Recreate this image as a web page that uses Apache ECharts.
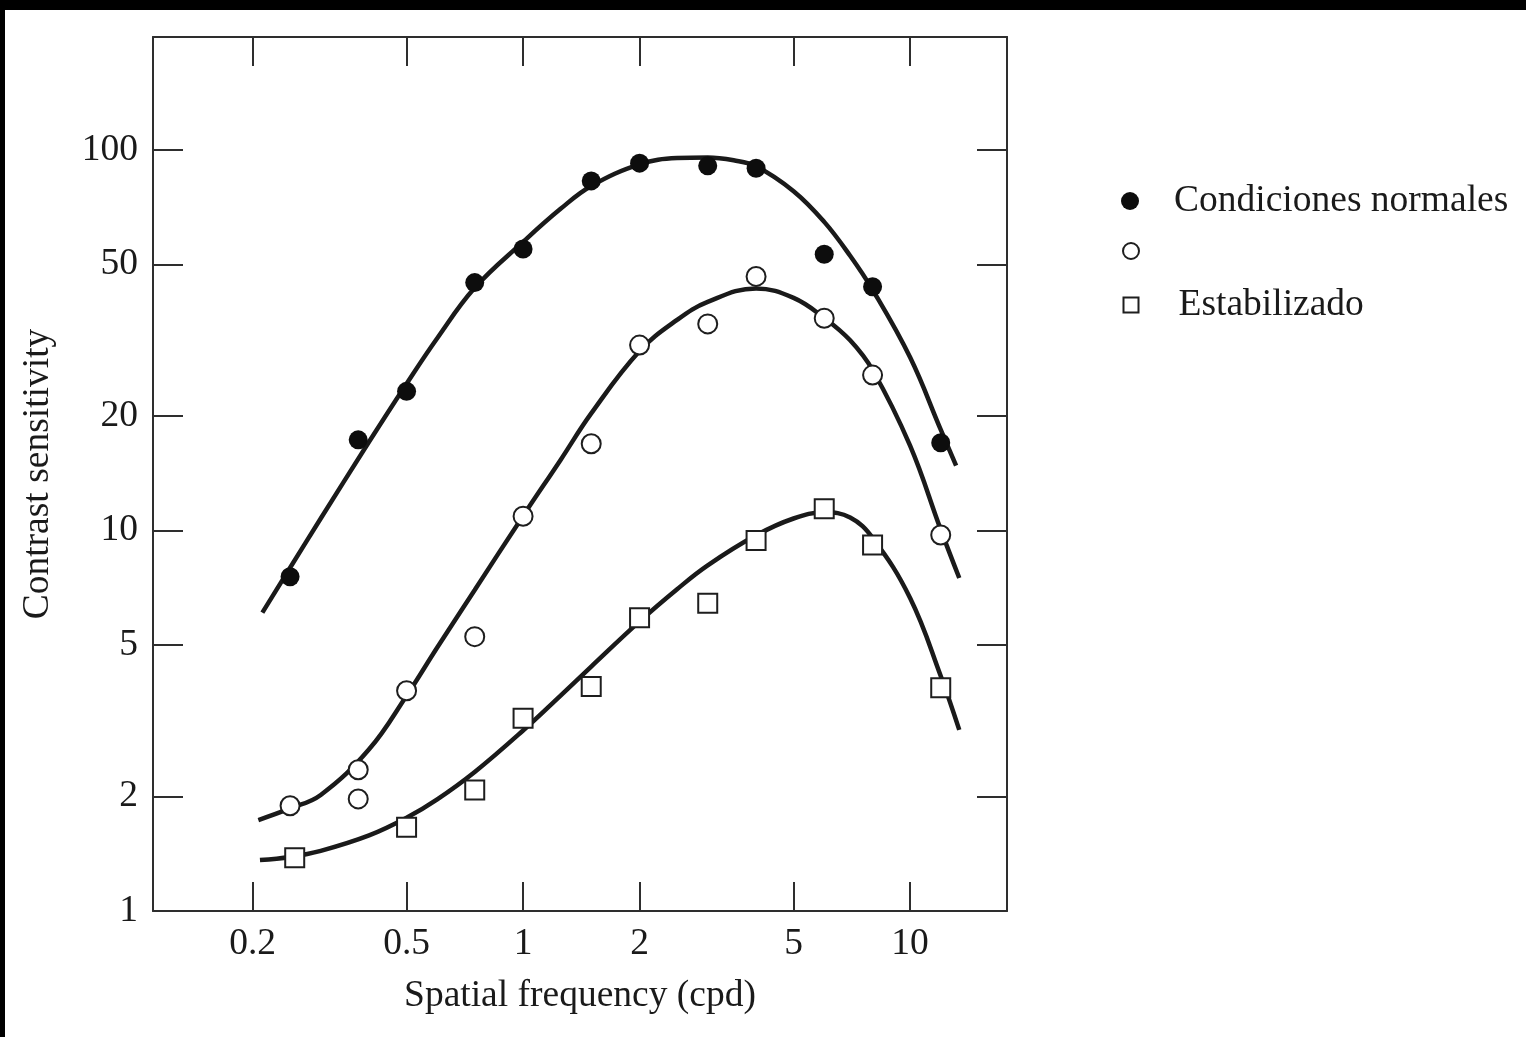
<!DOCTYPE html>
<html>
<head>
<meta charset="utf-8">
<script src="https://cdn.jsdelivr.net/npm/echarts@6/dist/echarts.min.js"></script>
<style>
  html, body { margin: 0; padding: 0; background: #fff; overflow: hidden; }
  #chart { position: absolute; left: 0; top: 0; width: 1526px; height: 1037px; }
  .band { position: absolute; background: #000; z-index: 2; }
</style>
</head>
<body>
<div id="chart"></div>
<div class="band" style="left:0;top:0;width:1526px;height:10px;"></div>
<div class="band" style="left:0;top:0;width:5px;height:1037px;"></div>
<script>
// Contrast sensitivity vs. spatial frequency (log–log)

const X_TICKS = [0.2, 0.5, 1, 2, 5, 10];
const Y_TICKS = [1, 2, 5, 10, 20, 50, 100];

// Measured points
const NORMAL_FREQ = [0.25, 0.375, 0.5, 0.75, 1, 1.5, 2, 3, 4, 6, 8, 12];
const NORMAL_CS   = [7.56, 17.3, 23.2, 44.8, 54.9, 82.9, 92.3, 90.8, 89.5, 53.2, 43.7, 17.0];

const OPEN_FREQ = [0.25, 0.375, 0.375, 0.5, 0.75, 1, 1.5, 2, 3, 4, 6, 8, 12];
const OPEN_CS   = [1.89, 2.35, 1.97, 3.79, 5.26, 10.9, 16.9, 30.7, 34.9, 46.5, 36.1, 25.6, 9.73];

const STAB_FREQ = [0.257, 0.5, 0.75, 1, 1.5, 2, 3, 4, 6, 8, 12];
const STAB_CS   = [1.38, 1.66, 2.08, 3.21, 3.89, 5.9, 6.44, 9.41, 11.4, 9.16, 3.86];

// Fitted curves
const FIT_NORMAL_FREQ = [0.212, 0.25, 0.3, 0.4, 0.5, 0.6, 0.75, 1, 1.25, 1.5, 2, 2.5, 3, 3.5, 4, 5, 6, 7, 8, 10, 12, 13.15];
const FIT_NORMAL_CS   = [6.08, 7.98, 10.75, 17.1, 24.3, 32.0, 43.4, 57.3, 70.0, 80.4, 91.6, 95.2, 95.5, 93.9, 90.6, 77.9, 64.7, 52.7, 42.9, 28.5, 18.4, 14.8];

const FIT_OPEN_FREQ = [0.207, 0.25, 0.3, 0.4, 0.5, 0.6, 0.75, 1, 1.25, 1.5, 2, 2.5, 3, 4, 5, 6, 7, 8, 10, 12, 13.4];
const FIT_OPEN_CS   = [1.734, 1.86, 2.018, 2.66, 3.68, 4.927, 6.977, 10.92, 15.32, 20.3, 29.6, 35.75, 39.86, 43.25, 40.83, 36.19, 31.6, 26.4, 16.7, 10.05, 7.5];

const FIT_STAB_FREQ = [0.209, 0.25, 0.3, 0.4, 0.5, 0.6, 0.75, 1, 1.25, 1.5, 2, 2.5, 3, 4, 5, 6, 7, 8, 10, 12, 13.4];
const FIT_STAB_CS   = [1.361, 1.387, 1.439, 1.58, 1.758, 1.965, 2.319, 2.981, 3.683, 4.388, 5.767, 7.007, 8.095, 9.708, 10.75, 11.16, 10.81, 9.563, 6.647, 4.147, 2.991];

const LEGEND_NAMES = ['Condiciones normales', ' ', 'Estabilizado'];

const FONT = '"Liberation Serif", "Times New Roman", serif';
const FS = 37.5;
const INK = '#1a1a1a';
const FRAME = '#2e2e2e';

const pairs = (xs, ys) => xs.map((x, i) => [x, ys[i]]);
const fmt = v => String(+(+v).toPrecision(6));

function xAxis(pos, withLabels) {
  return {
    type: 'log', logBase: 10, min: 0.1106, max: 17.8, position: pos,
    axisLine: { show: true, onZero: false, lineStyle: { color: FRAME, width: 2 } },
    axisTick: { show: true, inside: true, length: 29, customValues: X_TICKS, lineStyle: { color: FRAME, width: 2 } },
    axisLabel: { show: withLabels, customValues: X_TICKS, formatter: fmt, fontSize: FS, fontFamily: FONT, color: INK, margin: 14 },
    splitLine: { show: false }, minorTick: { show: false },
    name: withLabels ? 'Spatial frequency (cpd)' : '', nameLocation: 'middle', nameGap: 66,
    nameTextStyle: { fontSize: FS, fontFamily: FONT, color: INK }
  };
}
function yAxis(pos, withLabels) {
  return {
    type: 'log', logBase: 10, min: 1, max: 198, position: pos,
    axisLine: { show: true, onZero: false, lineStyle: { color: FRAME, width: 2 } },
    axisTick: { show: true, inside: true, length: 30, customValues: Y_TICKS, lineStyle: { color: FRAME, width: 2 } },
    axisLabel: { show: withLabels, customValues: Y_TICKS, formatter: fmt, fontSize: FS, fontFamily: FONT, color: INK, margin: 15 },
    splitLine: { show: false }, minorTick: { show: false },
    name: withLabels ? 'Contrast sensitivity' : '', nameLocation: 'middle', nameGap: 96,
    nameTextStyle: { fontSize: FS, fontFamily: FONT, color: INK }
  };
}

const MARKS = [
  { name: LEGEND_NAMES[0], symbol: 'circle', size: 19, style: { color: '#0d0d0d', borderWidth: 0, opacity: 1 }, icon: 'circle', iconSize: 18, textPad: 30 },
  { name: LEGEND_NAMES[1], symbol: 'circle', size: 19, style: { color: '#fff', borderColor: '#1e1e1e', borderWidth: 2, opacity: 1 }, icon: 'circle', iconSize: 16, textPad: 30 },
  { name: LEGEND_NAMES[2], symbol: 'rect',   size: 19, style: { color: '#fff', borderColor: '#1e1e1e', borderWidth: 2, opacity: 1 }, icon: 'rect', iconSize: 15, textPad: 35 }
];
const LEGEND_CENTER_Y = [201, 251, 305];
const LEGEND_CENTER_X = 1130;

const fitLine = (name, xs, ys) => ({
  name, type: 'line', data: pairs(xs, ys), smooth: 0.4, showSymbol: false, symbol: 'none',
  lineStyle: { color: INK, width: 4.5 }, z: 2, silent: true
});
const points = (m, xs, ys) => ({
  name: m.name, type: 'scatter', data: pairs(xs, ys), symbol: m.symbol, symbolSize: m.size,
  itemStyle: m.style, z: 3, silent: true
});

const chart = echarts.init(document.getElementById('chart'), null, { renderer: 'canvas' });
chart.setOption({
  animation: false,
  backgroundColor: '#fff',
  grid: { left: 153, top: 37, width: 854, height: 874, containLabel: false, outerBoundsMode: 'none' },
  xAxis: [xAxis('bottom', true), xAxis('top', false)],
  yAxis: [yAxis('left', true), yAxis('right', false)],
  legend: MARKS.map((m, i) => ({
    data: [m.name], left: LEGEND_CENTER_X - m.iconSize / 2, top: LEGEND_CENTER_Y[i] - 19, padding: 0,
    icon: m.icon, itemWidth: m.iconSize, itemHeight: m.iconSize, selectedMode: false,
    itemStyle: m.style,
    textStyle: { fontSize: FS, fontFamily: FONT, color: INK, padding: [0, 0, 0, m.textPad] }
  })),
  series: [
    fitLine('fit-normal', FIT_NORMAL_FREQ, FIT_NORMAL_CS),
    fitLine('fit-open', FIT_OPEN_FREQ, FIT_OPEN_CS),
    fitLine('fit-stab', FIT_STAB_FREQ, FIT_STAB_CS),
    points(MARKS[0], NORMAL_FREQ, NORMAL_CS),
    points(MARKS[1], OPEN_FREQ, OPEN_CS),
    points(MARKS[2], STAB_FREQ, STAB_CS)
  ]
});
</script>
</body>
</html>
